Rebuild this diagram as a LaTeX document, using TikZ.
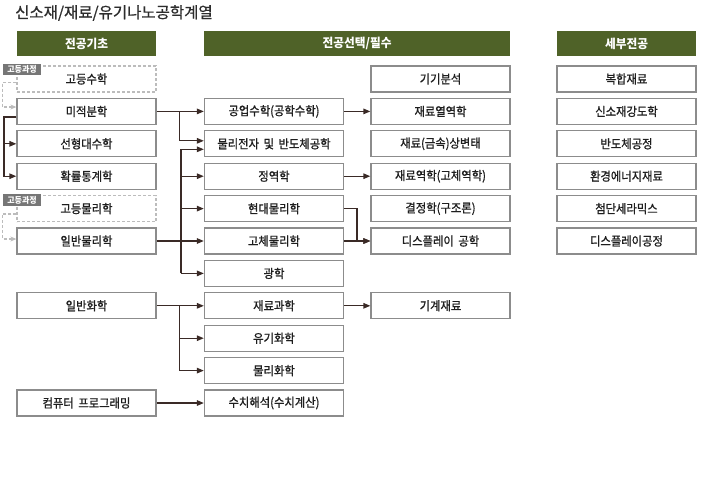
\documentclass[tikz,border=0pt]{standalone}
\usepackage{fontspec}
\setmainfont{Noto Sans CJK KR}
\newfontfamily\boxfont{Noto Sans CJK KR}[FakeStretch=0.92, FakeBold=1, WordSpace=1.8]
\newfontfamily\hdrfont{Noto Sans CJK KR}[FakeStretch=0.95]
\newfontfamily\titlefont{Noto Sans CJK KR}[FakeBold=0.8]
\usetikzlibrary{arrows.meta}
\definecolor{hdr}{RGB}{79,98,40}
\definecolor{bord}{RGB}{140,140,140}
\definecolor{dbord}{RGB}{188,188,188}
\definecolor{lnk}{RGB}{58,42,38}
\definecolor{tagc}{RGB}{118,118,118}
\definecolor{txt}{RGB}{30,30,30}
\definecolor{ttl}{RGB}{45,45,45}
\tikzset{
 box/.style={draw=bord, line width=1.3pt, minimum width=139pt, minimum height=26pt, inner sep=0pt, font=\boxfont\fontsize{12.3}{14}\selectfont, text=txt},
 dbox/.style={box, draw=dbord, dash pattern=on 3pt off 2pt},
 hdrbox/.style={fill=hdr, minimum width=139pt, minimum height=25pt, inner sep=0pt, text=white, font=\hdrfont\fontsize{12.3}{14}\selectfont\bfseries},
 tagbox/.style={fill=tagc, text=white, font=\hdrfont\fontsize{8.4}{9}\selectfont\bfseries, minimum width=38pt, minimum height=11.5pt, inner sep=0pt},
 arr/.style={draw=lnk, line width=1.3pt, -{Triangle[length=7pt,width=5.5pt]}},
 darr/.style={draw=dbord, line width=1.2pt, dash pattern=on 3pt off 2pt, -{Stealth[length=6pt,width=5pt]}}
}
\begin{document}
\begin{tikzpicture}[x=1pt,y=-1pt]
\useasboundingbox (0,0) rectangle (706,483);
\node[anchor=west, text=ttl, font=\titlefont\fontsize{15.5}{17}\selectfont, inner sep=0pt] (title) at (15,13) {신소재/재료/유기나노공학계열};
% headers
\node[hdrbox] (h1) at (86.5,43.5) {전공기초};
\node[hdrbox, minimum width=306pt] (h2) at (357,43.5) {전공선택/필수};
\node[hdrbox] (h3) at (626.5,43.5) {세부전공};
% column 1
\node[dbox] (gm) at (86.5,79) {고등수학};
\node[box] (mi) at (86.5,111.4) {미적분학};
\node[box] (sun) at (86.5,143.8) {선형대수학};
\node[box] (hwak) at (86.5,176.2) {확률통계학};
\node[dbox] (gp) at (86.5,208.6) {고등물리학};
\node[box] (il) at (86.5,241) {일반물리학};
\node[box] (ilh) at (86.5,305.8) {일반화학};
\node[box] (com) at (86.5,403) {컴퓨터 프로그래밍};
\node[tagbox] (t1) at (22,69.5) {고등과정};
\node[tagbox] (t2) at (22,200) {고등과정};
% column 2
\node[box] (gong) at (274,111.4) {공업수학(공학수학)};
\node[box] (mul) at (274,143.8) {물리전자 및 반도체공학};
\node[box] (jung) at (274,176.2) {정역학};
\node[box] (hyun) at (274,208.6) {현대물리학};
\node[box] (go) at (274,241) {고체물리학};
\node[box] (gw) at (274,273.4) {광학};
\node[box] (jk) at (274,305.8) {재료과학};
\node[box] (ugi) at (274,338.2) {유기화학};
\node[box] (mh) at (274,370.6) {물리화학};
\node[box] (su) at (274,403) {수치해석(수치계산)};
% column 3
\node[box] (gigi) at (440.5,79) {기기분석};
\node[box] (yeol) at (440.5,111.4) {재료열역학};
\node[box] (sang) at (440.5,143.8) {재료(금속)상변태};
\node[box] (yeok) at (440.5,176.2) {재료역학(고체역학)};
\node[box] (gyul) at (440.5,208.6) {결정학(구조론)};
\node[box] (disp) at (440.5,241) {디스플레이 공학};
\node[box] (gigye) at (440.5,305.8) {기계재료};
% column 4
\node[box] (bok) at (626.5,79) {복합재료};
\node[box] (gang) at (626.5,111.4) {신소재강도학};
\node[box] (ban) at (626.5,143.8) {반도체공정};
\node[box] (hwan) at (626.5,176.2) {환경에너지재료};
\node[box] (chum) at (626.5,208.6) {첨단세라믹스};
\node[box] (dgj) at (626.5,241) {디스플레이공정};
% bus coordinates
\coordinate (bx) at (179.5,0);
\coordinate (bx2) at (181,0);
\coordinate (lx) at (4,0);
\coordinate (dx) at (2.5,0);
\coordinate (rx) at (357,0);
% dashed links
\draw[darr] ([yshift=-3.5pt]gm.west) -| ([yshift=4.4pt]mi.west -| dx) -- ([yshift=4.4pt]mi.west);
\draw[darr] ([yshift=-5.4pt]gp.west) -| ([yshift=2pt]il.west -| dx) -- ([yshift=2pt]il.west);
% left bus
\draw[arr] ([yshift=-5.5pt]mi.west) -| (hwak.west -| lx) -- (hwak.west);
\draw[arr] (sun.west -| lx) -- (sun.west);
% col1 -> col2
\draw[arr] (mi.east) -- (gong.west);
\draw[arr] (mi.east -| bx) |- ([yshift=3pt]mul.west);
\draw[arr] (il.east) -- (go.west);
\draw[arr] (gw.west -| bx2) |- ([yshift=-5.5pt]mul.west);
\draw[arr] (gw.west -| bx2) -- (gw.west);
\draw[arr] (jung.west -| bx2) -- (jung.west);
\draw[arr] (hyun.west -| bx2) -- (hyun.west);
\draw[arr] (ilh.east) -- (jk.west);
\draw[arr] (ilh.east -| bx) |- (mh.west);
\draw[arr] (ugi.west -| bx) -- (ugi.west);
\draw[arr] (com.east) -- (su.west);
% col2 -> col3
\draw[arr] (gong.east) -- (yeol.west);
\draw[arr] (jung.east) -- (yeok.west);
\draw[arr] (hyun.east) -| (disp.west -| rx) -- (disp.west);
\draw[arr] (go.east) -- (disp.west);
\draw[arr] (jk.east) -- (gigye.west);
\end{tikzpicture}
\end{document}
